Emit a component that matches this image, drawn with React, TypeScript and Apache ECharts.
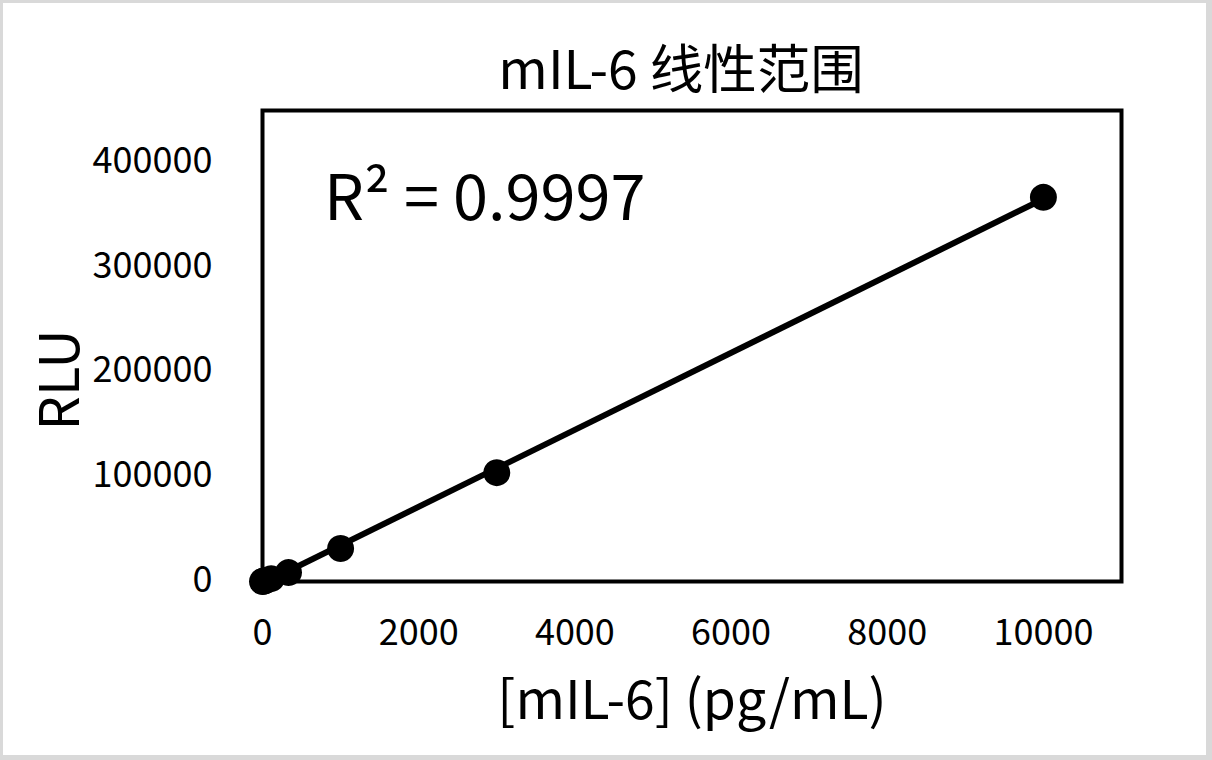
import React, { useEffect, useRef } from "react";
import * as echarts from "echarts";

// Data
const concentrations = [0, 12, 37, 111, 333, 1000, 3000, 10000]; // pg/mL
const rluValues = [0, 300, 900, 2700, 8500, 31500, 104000, 367000];
// linear trendline end points (estimated)
const trendX = [0, 10000];
const trendY = [-2100, 365500];

const titleText = "mIL-6 线性范围";
const r2Text = "R² = 0.9997";
const xName = "[mIL-6] (pg/mL)";
const yName = "RLU";

const FONT = '"Noto Sans CJK SC", "Noto Sans", sans-serif';

export default function App() {
  const ref = useRef<HTMLDivElement>(null);

  useEffect(() => {
    if (!ref.current) return;
    const chart = echarts.init(ref.current, undefined, { renderer: "svg" });
    const points = concentrations.map((c, i) => [c, rluValues[i]]);
    const trend = trendX.map((x, i) => [x, trendY[i]]);
    chart.setOption({
      animation: false,
      backgroundColor: "#ffffff",
      textStyle: { fontFamily: FONT },
      grid: {
        left: 259.5,
        top: 107.5,
        width: 859,
        height: 471,
        show: true,
        borderColor: "#000",
        borderWidth: 4,
        backgroundColor: "transparent",
        containLabel: false,
      },
      xAxis: {
        type: "value",
        min: 0,
        max: 11000,
        interval: 2000,
        name: xName,
        nameLocation: "middle",
        nameGap: 87,
        nameTextStyle: { fontSize: 53.5, color: "#000", fontFamily: FONT },
        axisLine: { show: false },
        axisTick: { show: false },
        splitLine: { show: false },
        axisLabel: {
          showMaxLabel: false,
          fontSize: 36,
          color: "#000",
          margin: 29,
          fontFamily: FONT,
          formatter: (v: number) => String(v),
        },
      },
      yAxis: {
        type: "value",
        min: 0,
        max: 450000,
        interval: 100000,
        axisLine: { show: false },
        axisTick: { show: false },
        splitLine: { show: false },
        axisLabel: {
          showMaxLabel: false,
          fontSize: 36,
          color: "#000",
          margin: 50,
          verticalAlign: "bottom",
          lineHeight: 12,
          fontFamily: FONT,
          formatter: (v: number) => String(v),
        },
      },
      graphic: [
        {
          type: "text",
          x: 678,
          y: 62,
          style: {
            text: titleText,
            fill: "#000",
            fontSize: 53.5,
            fontFamily: FONT,
            align: "center",
            verticalAlign: "middle",
            textAlign: "center",
            textVerticalAlign: "middle",
          },
        },
        {
          type: "text",
          x: 321,
          y: 189,
          z: 10,
          style: {
            text: r2Text,
            fill: "#000",
            fontSize: 63,
            fontFamily: FONT,
            align: "left",
            verticalAlign: "middle",
            textAlign: "left",
            textVerticalAlign: "middle",
          },
        },
        {
          type: "text",
          x: 52,
          y: 377,
          rotation: Math.PI / 2,
          style: {
            text: yName,
            fill: "#000",
            fontSize: 54,
            fontFamily: FONT,
            align: "center",
            verticalAlign: "middle",
            textAlign: "center",
            textVerticalAlign: "middle",
          },
        },
      ],
      series: [
        {
          type: "line",
          data: trend,
          showSymbol: false,
          symbol: "none",
          clip: false,
          lineStyle: { color: "#000", width: 6 },
          z: 2,
        },
        {
          type: "scatter",
          data: points,
          symbol: "circle",
          symbolSize: 27,
          clip: false,
          itemStyle: { color: "#000", opacity: 1 },
          z: 3,
        },
      ],
    });
    return () => chart.dispose();
  }, []);

  return (
    <div
      style={{
        position: "fixed",
        left: 0,
        top: 0,
        width: 1212,
        height: 760,
        background: "#d9d9d9",
      }}
    >
      <div
        ref={ref}
        style={{
          position: "absolute",
          left: 3,
          top: 3,
          width: 1203,
          height: 752,
          background: "#fff",
        }}
      />
    </div>
  );
}
